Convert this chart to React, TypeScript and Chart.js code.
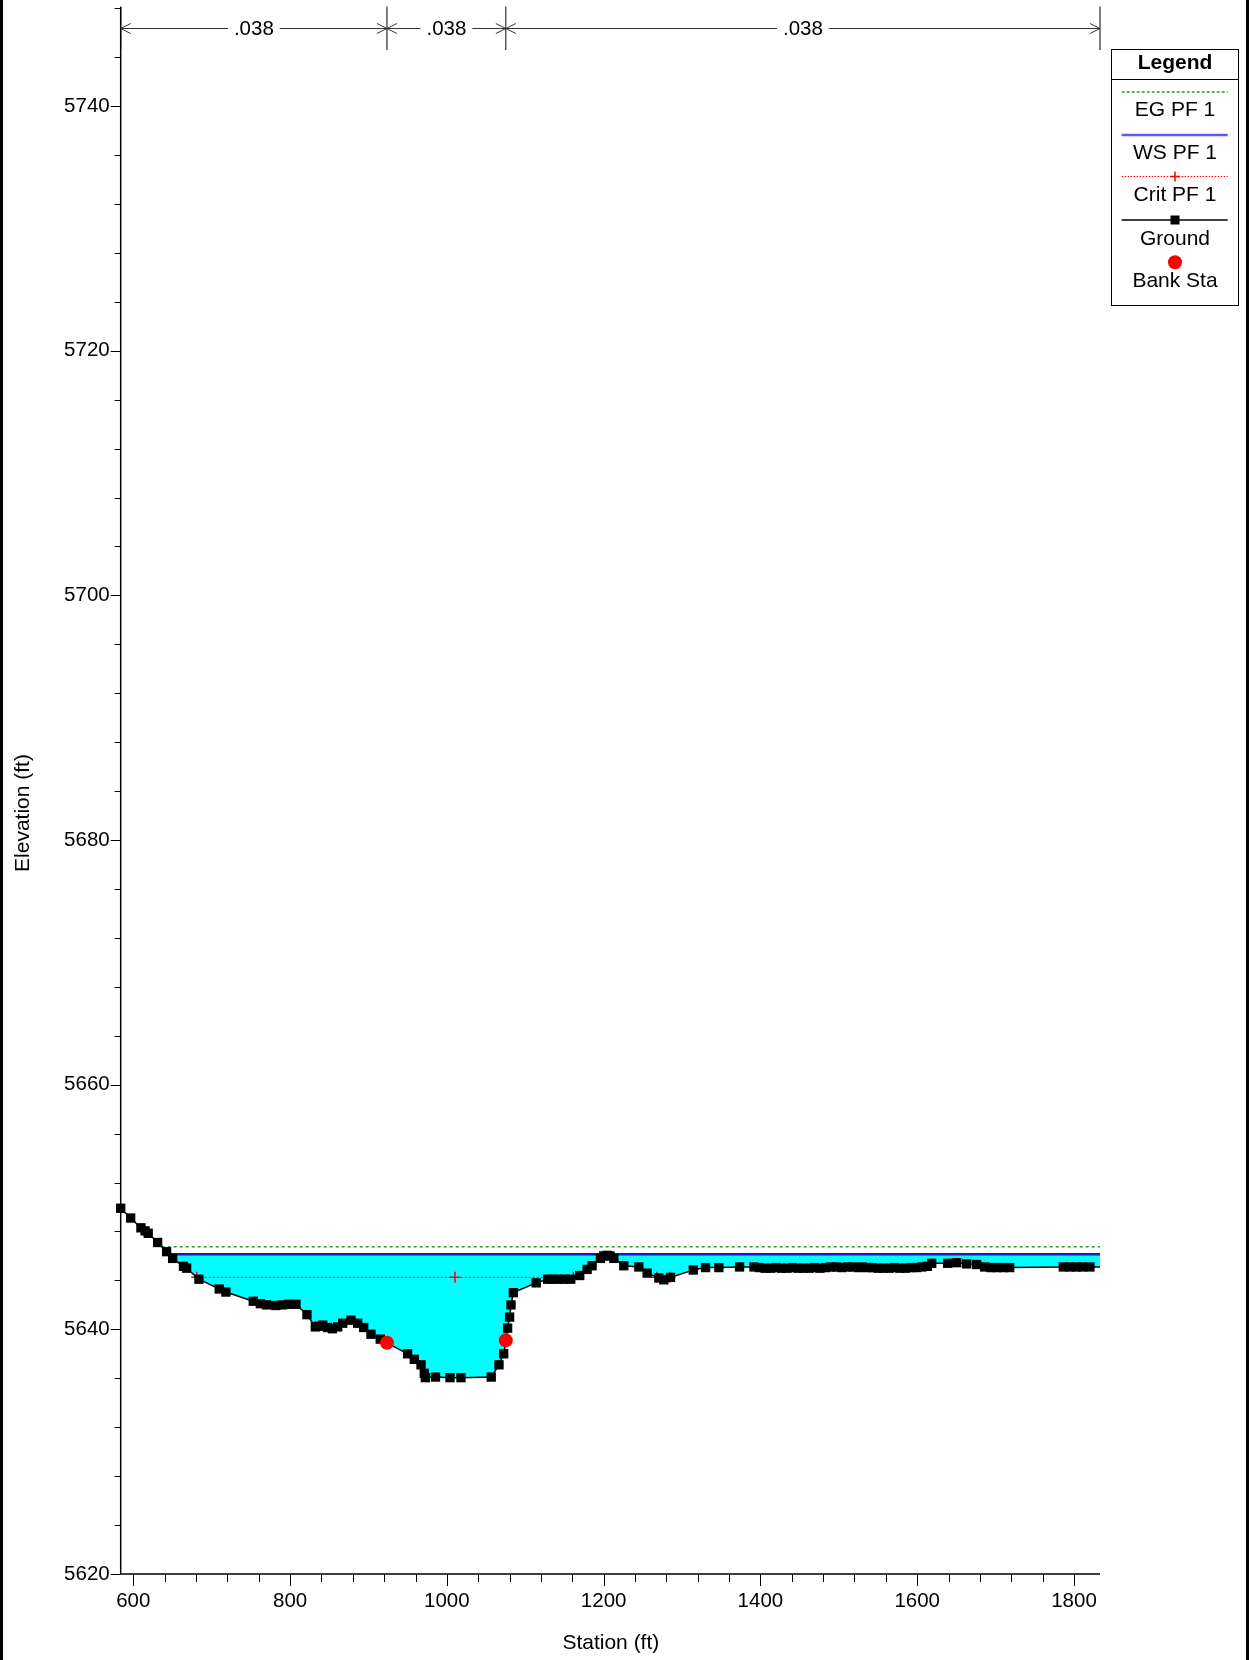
import React, { useEffect, useRef } from 'react';
import { Chart, registerables } from 'chart.js';

Chart.register(...registerables);

// ---------------- data ----------------
const groundStations = [
  583.9, 596.6, 609.7, 615, 619, 631, 642.5, 650.2, 664, 668, 683.7, 709.6, 718.1,
  753, 762, 770, 781.6, 790, 798, 807.5, 821.5, 832.2, 836, 841.6, 848, 854, 860.7,
  867.1, 877.7, 886.2, 893.9, 903.2, 915, 923.6, 949.9, 958.4, 967, 971.2, 972.5,
  985.5, 1004, 1018, 1056.6, 1066.5, 1072.5, 1075.5, 1077.5, 1080, 1081.8, 1084.8,
  1114, 1128.5, 1135, 1142, 1150, 1158, 1169.5, 1178.9, 1185.3, 1195.9, 1200, 1204.4,
  1208, 1213, 1225.7, 1244.9, 1255.5, 1270.4, 1276.8, 1285.3, 1314.3, 1330, 1347,
  1373.4, 1391.8, 1399, 1406, 1413, 1420, 1427, 1434, 1441, 1448, 1455, 1462, 1469,
  1476, 1483, 1490, 1497, 1504, 1511, 1518, 1525, 1530, 1536, 1543, 1550, 1557, 1564,
  1571, 1578, 1585, 1592, 1599, 1606, 1613, 1618.5, 1638.9, 1650.4, 1663.1, 1675.9,
  1686, 1694, 1702, 1710, 1718, 1786.4, 1795, 1803, 1811, 1820.4, 1833.2,
];
const groundElev = [
  5649.9, 5649.1, 5648.3, 5648.05, 5647.85, 5647.1, 5646.35, 5645.8, 5645.15, 5645.0, 5644.1, 5643.3, 5643.05,
  5642.3, 5642.1, 5642.0, 5641.95, 5642.0, 5642.05, 5642.05, 5641.2, 5640.2, 5640.25, 5640.35, 5640.15, 5640.05, 5640.2,
  5640.5, 5640.75, 5640.5, 5640.15, 5639.6, 5639.2, 5638.9, 5638.0, 5637.55, 5637.1, 5636.4, 5636.05,
  5636.1, 5636.05, 5636.05, 5636.1, 5637.1, 5638.0, 5639.1, 5640.1, 5641.0, 5642.0, 5643.0,
  5643.8, 5644.1, 5644.1, 5644.1, 5644.1, 5644.1, 5644.4, 5644.9, 5645.2, 5645.8, 5646.0, 5646.05,
  5646.0, 5645.8, 5645.2, 5645.1, 5644.6, 5644.2, 5644.05, 5644.25, 5644.85, 5645.05, 5645.05,
  5645.1, 5645.1, 5645.05, 5645.0, 5645.0, 5645.05, 5645.0, 5645.0, 5645.05, 5645.0, 5645.0, 5645.0, 5645.05,
  5645.0, 5645.05, 5645.1, 5645.1, 5645.05, 5645.1, 5645.1, 5645.05, 5645.1, 5645.05, 5645.05, 5645.0, 5645.0, 5645.0,
  5645.05, 5645.0, 5645.0, 5645.05, 5645.05, 5645.1, 5645.15, 5645.4, 5645.4, 5645.45, 5645.35, 5645.3,
  5645.1, 5645.05, 5645.05, 5645.05, 5645.05, 5645.1, 5645.1, 5645.1, 5645.1, 5645.1, 5645.1,
];

const bankStations = [923.6, 1075.2];
const bankElev = [5638.9, 5639.1];

const wsStations = [645.9, 1833.2];
const wsElev = [5646.13, 5646.13];

const egStations = [636.2, 1833.2];
const egElev = [5646.75, 5646.75];

const critStations = [680.9, 1010.4, 1161.3, 1220, 1267.7, 1284.6];
const critElev: (number | null)[] = [5644.25, 5644.25, 5644.25, null, 5644.25, 5644.25];

const xTickValues = [600, 800, 1000, 1200, 1400, 1600, 1800];
const yTickValues = [5620, 5640, 5660, 5680, 5700, 5720, 5740];
const manningN = ['.038', '.038', '.038'];
const legendLabels = ['EG PF 1', 'WS PF 1', 'Crit PF 1', 'Ground', 'Bank Sta'];

const X_MIN = 583.9;
const X_MAX = 1833.2;
const Y_MIN = 5620;
const Y_MAX = 5748.1;
const X_MINOR = 40;
const Y_MINOR = 4;

const FONT = "'Liberation Sans', Arial, sans-serif";

const pts = (xs: number[], ys: (number | null)[]) => xs.map((x, i) => ({ x, y: ys[i] }));

// ---------------- overlay plugin ----------------
const overlay = {
  id: 'overlay',
  afterDraw(chart: any) {
    const ctx: CanvasRenderingContext2D = chart.ctx;
    const xs = chart.scales.x;
    const ys = chart.scales.y;
    const { left, right, top, bottom } = chart.chartArea;
    ctx.save();

    // axes lines
    ctx.strokeStyle = '#000';
    ctx.lineWidth = 1.5;
    ctx.beginPath();
    ctx.moveTo(left, top);
    ctx.lineTo(left, bottom);
    ctx.lineTo(right, bottom);
    ctx.stroke();

    // ticks
    ctx.lineWidth = 1;
    ctx.beginPath();
    for (let k = 0; Y_MIN + k * Y_MINOR <= Y_MAX; k++) {
      const v = Y_MIN + k * Y_MINOR;
      const y = Math.round(ys.getPixelForValue(v)) + 0.5;
      const major = yTickValues.includes(v);
      ctx.moveTo(left - (major ? 10 : 6), y);
      ctx.lineTo(left, y);
    }
    for (let k = 0; xTickValues[0] + k * X_MINOR <= X_MAX; k++) {
      const v = xTickValues[0] + k * X_MINOR;
      const x = Math.round(xs.getPixelForValue(v)) + 0.5;
      const major = xTickValues.includes(v);
      ctx.moveTo(x, bottom);
      ctx.lineTo(x, bottom + (major ? 12 : 8));
    }
    ctx.stroke();

    // axis titles
    ctx.fillStyle = '#000';
    ctx.font = `21px ${FONT}`;
    ctx.textAlign = 'center';
    ctx.textBaseline = 'middle';
    ctx.fillText('Station (ft)', (left + right) / 2 + 0.5, 1643);
    ctx.save();
    ctx.translate(23, 813);
    ctx.rotate(-Math.PI / 2);
    ctx.fillText('Elevation (ft)', 0, 0);
    ctx.restore();

    // Manning's n annotation
    const bounds = [X_MIN, bankStations[0], bankStations[1], X_MAX];
    const bx = bounds.map((b) => xs.getPixelForValue(b));
    const ay = 28.5;
    ctx.strokeStyle = '#000';
    ctx.lineWidth = 1;
    ctx.beginPath();
    bx.forEach((x) => {
      ctx.moveTo(x, 6.5);
      ctx.lineTo(x, 50);
    });
    ctx.stroke();
    ctx.font = `20.5px ${FONT}`;
    for (let i = 0; i < 3; i++) {
      const x0 = bx[i];
      const x1 = bx[i + 1];
      const mid = (x0 + x1) / 2;
      const tw = ctx.measureText(manningN[i]).width;
      ctx.strokeStyle = '#333';
      ctx.beginPath();
      ctx.moveTo(x0, ay);
      ctx.lineTo(mid - tw / 2 - 6, ay);
      ctx.moveTo(mid + tw / 2 + 6, ay);
      ctx.lineTo(x1, ay);
      // arrowheads
      ctx.moveTo(x0 + 10, ay - 5);
      ctx.lineTo(x0, ay);
      ctx.lineTo(x0 + 10, ay + 5);
      ctx.moveTo(x1 - 10, ay - 5);
      ctx.lineTo(x1, ay);
      ctx.lineTo(x1 - 10, ay + 5);
      ctx.stroke();
      ctx.fillStyle = '#000';
      ctx.fillText(manningN[i], mid, ay + 0.5);
    }

    // legend
    const lx0 = 1111.5, ly0 = 49.5, lx1 = 1238.5, ly1 = 305.5;
    const cx = (lx0 + lx1) / 2;
    const sx0 = 1121.7, sx1 = 1227.7;
    ctx.fillStyle = '#fff';
    ctx.fillRect(lx0, ly0, lx1 - lx0, ly1 - ly0);
    ctx.strokeStyle = '#000';
    ctx.lineWidth = 1;
    ctx.strokeRect(lx0, ly0, lx1 - lx0, ly1 - ly0);
    ctx.beginPath();
    ctx.moveTo(lx0, 79.5);
    ctx.lineTo(lx1, 79.5);
    ctx.stroke();
    ctx.fillStyle = '#000';
    ctx.font = `bold 21px ${FONT}`;
    ctx.fillText('Legend', cx, 63);

    // EG sample
    ctx.save();
    ctx.strokeStyle = '#2e9a2e';
    ctx.lineWidth = 1.5;
    ctx.setLineDash([3, 2]);
    ctx.beginPath();
    ctx.moveTo(sx0, 92);
    ctx.lineTo(sx1, 92);
    ctx.stroke();
    // WS sample
    ctx.setLineDash([]);
    ctx.strokeStyle = '#5a5aff';
    ctx.lineWidth = 2.5;
    ctx.beginPath();
    ctx.moveTo(sx0, 135);
    ctx.lineTo(sx1, 135);
    ctx.stroke();
    // Crit sample
    ctx.strokeStyle = '#ff0000';
    ctx.lineWidth = 1;
    ctx.setLineDash([1.5, 1.5]);
    ctx.beginPath();
    ctx.moveTo(sx0, 176.5);
    ctx.lineTo(sx1, 176.5);
    ctx.stroke();
    ctx.setLineDash([]);
    ctx.lineWidth = 1.5;
    ctx.beginPath();
    ctx.moveTo(cx - 5, 176.5);
    ctx.lineTo(cx + 5, 176.5);
    ctx.moveTo(cx, 171.5);
    ctx.lineTo(cx, 181.5);
    ctx.stroke();
    // Ground sample
    ctx.strokeStyle = '#000';
    ctx.lineWidth = 1.5;
    ctx.beginPath();
    ctx.moveTo(sx0, 220);
    ctx.lineTo(sx1, 220);
    ctx.stroke();
    ctx.fillStyle = '#000';
    ctx.fillRect(cx - 4.5, 220 - 4.5, 9, 9);
    // Bank sample
    ctx.fillStyle = '#ff0000';
    ctx.beginPath();
    ctx.arc(cx, 262.3, 7, 0, Math.PI * 2);
    ctx.fill();
    ctx.restore();

    ctx.fillStyle = '#000';
    ctx.font = `21px ${FONT}`;
    const textY = [110, 153.3, 195, 239, 281.7];
    legendLabels.forEach((t, i) => ctx.fillText(t, cx, textY[i]));

    // page frame
    ctx.fillStyle = '#000';
    ctx.fillRect(0, 0, 3, 1660);
    ctx.fillRect(1246, 0, 3, 1660);

    ctx.restore();
  },
};

export default function App() {
  const ref = useRef<HTMLCanvasElement | null>(null);

  useEffect(() => {
    document.body.style.margin = '0';
    const canvas = ref.current;
    if (!canvas) return;
    const chart = new Chart(canvas, {
      type: 'line',
      data: {
        datasets: [
          {
            label: 'Bank Sta',
            data: pts(bankStations, bankElev),
            showLine: false,
            pointStyle: 'circle',
            pointRadius: 7,
            pointBackgroundColor: '#ff0000',
            pointBorderColor: '#ff0000',
            pointBorderWidth: 0,
            clip: false as any,
          },
          {
            label: 'Ground',
            data: pts(groundStations, groundElev),
            borderColor: '#000',
            borderWidth: 1.5,
            pointStyle: 'rect',
            pointRadius: (c: any) => (c.dataIndex === groundStations.length - 1 ? 0 : 6.6),
            pointBackgroundColor: '#000',
            pointBorderColor: '#000',
            pointBorderWidth: 0,
            fill: false,
            tension: 0,
            clip: false as any,
          },
          {
            label: 'Crit PF 1',
            data: pts(critStations, critElev),
            borderColor: '#ff0000',
            borderWidth: 1,
            borderDash: [2, 2],
            pointStyle: 'cross',
            pointRadius: 5.5,
            pointBorderColor: '#ff0000',
            pointBorderWidth: 1.5,
            spanGaps: false,
            fill: false,
          },
          {
            label: 'WS PF 1',
            data: pts(wsStations, wsElev),
            borderColor: '#1a1ac0',
            borderWidth: 2.5,
            pointRadius: 0,
            fill: { target: 1, above: '#00ffff', below: 'rgba(0,0,0,0)' } as any,
          },
          {
            label: 'EG PF 1',
            data: pts(egStations, egElev),
            borderColor: '#339933',
            borderWidth: 1.5,
            borderDash: [3, 3],
            pointRadius: 0,
            fill: false,
          },
        ],
      },
      options: {
        animation: false,
        responsive: false,
        events: [],
        layout: { padding: { left: 0, right: 149, top: 6.7, bottom: 0 } },
        plugins: {
          legend: { display: false },
          tooltip: { enabled: false },
          title: { display: false },
        },
        scales: {
          x: {
            type: 'linear',
            min: X_MIN,
            max: X_MAX,
            afterBuildTicks: (s: any) => {
              s.ticks = xTickValues.map((v) => ({ value: v }));
            },
            afterFit: (s: any) => {
              s.height = 86;
              s.paddingLeft = 0;
              s.paddingRight = 0;
              s.paddingTop = 0;
              s.paddingBottom = 0;
            },
            grid: { display: false, drawTicks: false },
            border: { display: false },
            ticks: {
              autoSkip: false,
              maxRotation: 0,
              padding: 15,
              color: '#000',
              font: { family: FONT, size: 20.5 },
              callback: (v: any) => String(v),
            },
          },
          y: {
            type: 'linear',
            min: Y_MIN,
            max: Y_MAX,
            afterBuildTicks: (s: any) => {
              s.ticks = yTickValues.map((v) => ({ value: v }));
            },
            afterFit: (s: any) => {
              s.width = 120.7;
              s.paddingLeft = 0;
              s.paddingRight = 0;
              s.paddingTop = 0;
              s.paddingBottom = 0;
            },
            grid: { display: false, drawTicks: false },
            border: { display: false },
            ticks: {
              autoSkip: false,
              padding: 11,
              color: '#000',
              font: { family: FONT, size: 20.5 },
              callback: (v: any) => String(v),
            },
          },
        },
      },
      plugins: [overlay],
    });
    return () => chart.destroy();
  }, []);

  return (
    <div style={{ width: 1249, height: 1660, background: '#fff' }}>
      <canvas ref={ref} width={1249} height={1660} style={{ display: 'block', width: 1249, height: 1660 }} />
    </div>
  );
}
